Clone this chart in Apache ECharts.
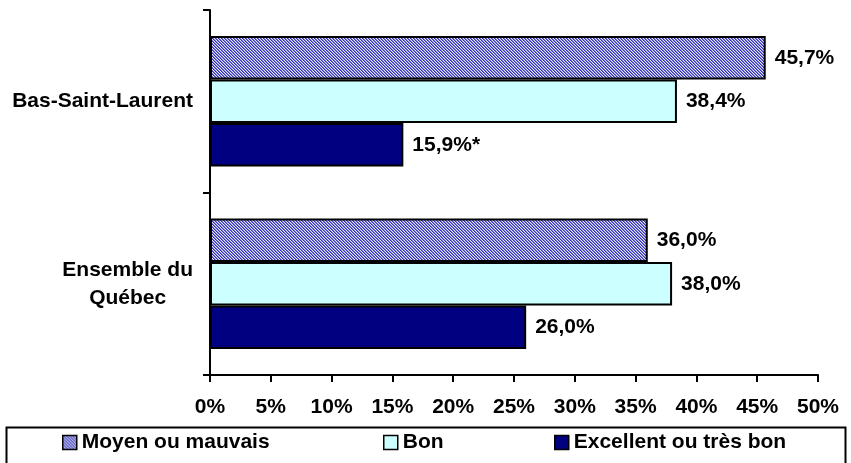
<!DOCTYPE html>
<html>
<head>
<meta charset="utf-8">
<script src="https://cdn.jsdelivr.net/npm/echarts@6/dist/echarts.min.js"></script>
<style>
html,body{margin:0;padding:0;background:#fff;}
#chart{width:851px;height:463px;}
</style>
</head>
<body>
<div id="chart"></div>
<script>
const categories = ['Bas-Saint-Laurent', 'Ensemble du\nQuébec'];
const seriesNames = ['Moyen ou mauvais', 'Bon', 'Excellent ou très bon'];
const moyenValues = [45.7, 36.0];
const bonValues = [38.4, 38.0];
const excellentValues = [15.9, 26.0];
const excellentNotes = ['*', ''];
const xTickValues = [0, 5, 10, 15, 20, 25, 30, 35, 40, 45, 50];

const FONT = '"Liberation Sans", Arial, sans-serif';
const FS = 21;

function makeHatch() {
  const c = document.createElement('canvas');
  c.width = 3; c.height = 3;
  const ctx = c.getContext('2d');
  ctx.fillStyle = '#e6e6ff';
  ctx.fillRect(0, 0, 3, 3);
  for (let y = 0; y < 3; y++) {
    for (let x = 0; x < 3; x++) {
      const k = (((x - y) % 3) + 3) % 3;
      if (k === 0) { ctx.fillStyle = '#3434b4'; ctx.fillRect(x, y, 1, 1); }
      else if (k === 1) { ctx.fillStyle = '#7a7ad2'; ctx.fillRect(x, y, 1, 1); }
    }
  }
  return c;
}
const hatch = { image: makeHatch(), repeat: 'repeat' };

function fmt(v, note) {
  return v.toFixed(1).replace('.', ',') + '%' + (note || '');
}

const labelStyle = {
  show: true, position: 'right', distance: 9,
  color: '#000', fontFamily: FONT, fontWeight: 'bold', fontSize: FS
};
const itemBase = { borderColor: '#000', borderWidth: 2 };

const chart = echarts.init(document.getElementById('chart'), null, { renderer: 'canvas' });

function legendAt(name, left) {
  return {
    data: [name], left: left, top: 432, padding: 0, orient: 'horizontal',
    selectedMode: false, itemWidth: 14, itemHeight: 14, icon: 'rect',
    itemStyle: { borderColor: '#000', borderWidth: 1.5 },
    textStyle: { color: '#000', fontFamily: FONT, fontWeight: 'bold', fontSize: FS }
  };
}

chart.setOption({
  animation: false,
  backgroundColor: '#fff',
  grid: { left: 210, right: 33, top: 10, bottom: 88, containLabel: false },
  xAxis: {
    type: 'value', min: 0, max: 50, interval: 5,
    axisLine: { show: true, lineStyle: { color: '#000', width: 2 } },
    axisTick: { show: true, length: 7, lineStyle: { color: '#000', width: 2 } },
    splitLine: { show: false },
    axisLabel: {
      margin: 22, color: '#000', fontFamily: FONT, fontWeight: 'bold', fontSize: FS,
      formatter: v => xTickValues.includes(v) ? v + '%' : ''
    }
  },
  yAxis: {
    type: 'category', inverse: true, data: categories,
    axisLine: { show: true, lineStyle: { color: '#000', width: 2 } },
    axisTick: { show: true, length: 7, lineStyle: { color: '#000', width: 2 } },
    axisLabel: {
      margin: 17, color: '#000', fontFamily: FONT, fontWeight: 'bold', fontSize: FS,
      align: 'right',
      formatter: v => v.split('\n').map(s => '{c|' + s + '}').join('\n'),
      rich: { c: { align: 'center', fontFamily: FONT, fontWeight: 'bold', fontSize: FS, lineHeight: 28, color: '#000' } }
    }
  },
  legend: [
    legendAt(seriesNames[0], 62),
    legendAt(seriesNames[1], 383),
    legendAt(seriesNames[2], 554)
  ],
  graphic: [{
    type: 'rect', left: 4, top: 425, silent: true,
    shape: { width: 839, height: 60 },
    style: { fill: 'none', stroke: '#000', lineWidth: 2 }
  }],
  series: [
    {
      name: seriesNames[0], type: 'bar', data: moyenValues,
      barGap: '0%', barCategoryGap: '28.5%',
      itemStyle: Object.assign({ color: hatch }, itemBase),
      label: Object.assign({ formatter: p => fmt(p.value) }, labelStyle)
    },
    {
      name: seriesNames[1], type: 'bar', data: bonValues,
      barGap: '0%', barCategoryGap: '28.5%',
      itemStyle: Object.assign({ color: '#ccffff' }, itemBase),
      label: Object.assign({ formatter: p => fmt(p.value) }, labelStyle)
    },
    {
      name: seriesNames[2], type: 'bar', data: excellentValues,
      barGap: '0%', barCategoryGap: '28.5%',
      itemStyle: Object.assign({ color: '#000080' }, itemBase),
      label: Object.assign({ formatter: p => fmt(p.value, excellentNotes[p.dataIndex]) }, labelStyle)
    }
  ]
});
</script>
</body>
</html>
